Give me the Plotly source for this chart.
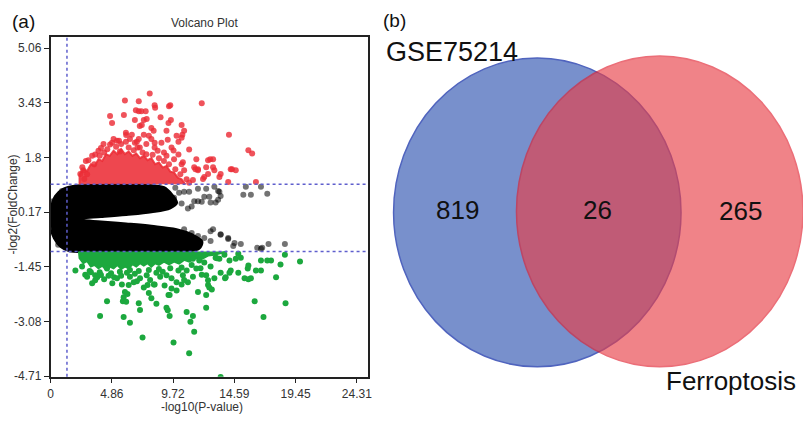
import plotly.graph_objects as go

W, H = 803, 424

# ---------------- Volcano plot data ----------------
x_ticks = [0, 4.86, 9.72, 14.59, 19.45, 24.31]
x_tick_labels = ["0", "4.86", "9.72", "14.59", "19.45", "24.31"]
y_ticks = [-4.71, -3.08, -1.45, 0.17, 1.8, 3.43, 5.06]
y_tick_labels = ["-4.71", "-3.08", "-1.45", "0.17", "1.8", "3.43", "5.06"]

p_cut = 1.3
fc_cut = [1.0, -1.0]

# outline of the dense black (non-significant) cloud
black_core_x = [0.0, 0.1, 0.4, 1.0, 2.0, 3.5, 6.0, 8.0, 9.0, 9.6, 10.0, 9.5, 8.0, 6.0, 4.0, 2.5, 1.7,
                2.5, 4.0, 6.0, 8.0, 10.0, 11.2, 12.0, 11.8, 11.0, 8.0, 4.0, 1.5, 0.8, 0.3, 0.05]
black_core_y = [-0.05, 0.35, 0.65, 0.85, 0.95, 0.97, 0.97, 0.96, 0.9, 0.7, 0.45, 0.3, 0.18, 0.1, 0.04, 0.0, -0.04,
                -0.08, -0.12, -0.18, -0.25, -0.35, -0.5, -0.7, -0.9, -0.98, -0.99, -0.99, -0.98, -0.85, -0.6, -0.35]

gray_x = [13.0, 15.5, 16.7, 15.3, 15.9, 17.2, 13.3, 13.5, 12.2, 12.7, 13.1, 11.4, 11.7, 11.2, 10.6, 11.0,
          11.7, 12.35, 13.4, 12.6, 13.3, 12.0, 10.4, 10.9, 10.6, 11.2, 11.7, 12.2, 12.7, 12.9, 12.7, 13.5,
          14.1, 14.1, 14.5, 14.6, 15.1, 16.4, 16.7, 16.8, 17.3, 18.6, 13.5, 9.8, 10.2, 9.9, 11.4, 10.8,
          0.1, 0.05, 0.2, 0.6, 0.9]
gray_y = [0.93, 0.93, 0.93, 0.69, 0.69, 0.72, 0.8, 0.65, 0.63, 0.46, 0.46, 0.5, 0.5, 0.34, 0.78, 0.78,
          0.87, 0.87, 0.78, 0.63, 0.54, 0.48, 0.43, 0.28, -0.34, -0.45, -0.54, -0.6, -0.69, -0.34, -0.4, -0.49,
          -0.6, -0.63, -0.84, -0.75, -0.78, -0.89, -0.92, -0.89, -0.78, -0.78, -0.5, 0.6, 0.75, 0.9, -0.8, -0.6,
          0.2, -0.3, 0.5, -0.8, 0.8]

# outline of the dense red (up-regulated) cluster
red_core_x = [2.3, 2.3, 2.6, 2.9, 3.2, 3.5, 3.8, 4.1, 4.4, 4.7, 5.0, 5.3, 5.6, 5.9, 6.2, 6.5, 6.8, 7.1,
              7.4, 7.7, 8.0, 8.3, 8.6, 8.9, 9.2, 9.5, 9.8, 10.1, 10.4, 10.7]
red_core_y = [1.0, 1.3, 1.45, 1.4, 1.6, 1.55, 1.75, 1.7, 1.9, 1.85, 2.0, 1.9, 2.05, 1.9, 1.98, 1.85, 1.92, 1.78,
              1.85, 1.72, 1.78, 1.6, 1.65, 1.5, 1.55, 1.38, 1.35, 1.2, 1.15, 1.0]

red_x = [7.87, 5.9, 7.0, 8.26, 8.3, 9.5, 12.0, 6.77, 7.0, 7.2, 7.55, 4.72, 5.82, 4.88, 6.69, 7.4, 7.63,
         8.73, 9.4, 9.36, 9.55, 7.08, 7.24, 8.0, 10.4, 5.98, 6.0, 6.45, 7.4, 7.8, 8.18, 9.2, 9.3, 10.0,
         10.46, 10.6, 10.4, 14.16, 4.72, 4.88, 5.27, 5.43, 5.98, 6.69, 6.85, 8.26, 8.8, 10.15, 7.08, 8.26,
         9.6, 11.0, 15.7, 16.0, 9.76, 10.15, 3.54, 4.25, 3.46, 2.52, 2.36, 2.67, 11.57, 12.5, 12.9, 12.67,
         11.5, 11.7, 11.4, 12.9, 12.35, 13.0, 12.5, 12.1, 13.4, 13.5, 14.3, 14.7, 14.4, 14.1, 16.3, 12.2,
         11.3, 10.6, 10.5, 11.7, 3.0, 3.9, 4.5, 5.2, 5.5, 6.2, 6.6, 7.3, 7.6, 8.1, 8.6, 9.0, 9.4, 9.9,
         10.3, 10.8, 11.0, 2.9, 2.6, 3.3, 3.8, 4.2, 5.0, 5.6, 6.3, 6.9, 7.6, 8.5, 9.0, 9.8, 10.4, 2.8,
         4.0, 7.0, 8.0, 9.2]
red_y = [3.71, 3.5, 3.48, 3.36, 3.28, 3.36, 3.42, 3.21, 3.18, 3.18, 3.18, 3.04, 3.07, 2.83, 2.92, 2.92, 2.95,
         3.0, 3.33, 2.83, 2.92, 2.74, 2.77, 2.68, 2.77, 2.54, 2.47, 2.48, 2.48, 2.45, 2.6, 2.6, 2.33, 2.45,
         2.48, 2.6, 2.39, 2.48, 2.19, 2.24, 2.3, 2.3, 2.27, 2.24, 2.27, 2.24, 2.24, 2.27, 2.1, 2.1,
         2.1, 2.04, 2.02, 1.92, 2.01, 1.89, 1.89, 1.95, 1.6, 1.51, 1.31, 1.16, 1.75, 1.72, 1.75, 1.75,
         1.45, 1.45, 1.51, 1.51, 1.51, 1.42, 1.31, 1.16, 1.22, 1.31, 1.45, 1.42, 1.45, 1.07, 1.07, 1.22,
         1.13, 1.42, 1.66, 1.42, 1.72, 1.85, 2.05, 2.12, 1.98, 2.1, 2.02, 1.95, 1.9, 1.88, 1.78, 1.7, 1.6, 1.45,
         1.3, 1.15, 1.05, 1.3, 1.42, 1.85, 2.0, 2.2, 2.35, 2.2, 2.35, 2.1, 2.2, 2.0, 1.95, 1.75, 1.6, 1.7,
         2.08, 2.35, 2.35, 1.85]

# outline of the dense green (down-regulated) cluster
green_core_x = [2.25, 2.3, 2.6, 2.9, 3.2, 3.5, 3.8, 4.1, 4.4, 4.7, 5.0, 5.3, 5.6, 5.9, 6.2, 6.5, 6.8, 7.1,
                7.4, 7.7, 8.0, 8.3, 8.6, 9.0, 9.4, 9.8, 10.2, 10.6, 11.0, 11.5, 12.0, 12.5, 13.0, 13.5, 14.0]
green_core_y = [-1.0, -1.2, -1.35, -1.28, -1.45, -1.4, -1.5, -1.42, -1.55, -1.45, -1.5, -1.4, -1.52, -1.45,
                -1.5, -1.38, -1.45, -1.35, -1.42, -1.35, -1.45, -1.35, -1.4, -1.3, -1.38, -1.3, -1.36, -1.25,
                -1.3, -1.2, -1.22, -1.12, -1.1, -1.04, -1.0]

green_x = [1.97, 3.3, 4.48, 3.93, 5.74, 6.0, 6.1, 5.8, 6.3, 7.0, 7.1, 7.3, 8.4, 8.0, 7.8, 7.4, 6.85, 5.9,
           5.8, 5.04, 3.7, 3.54, 8.26, 9.2, 9.3, 9.45, 9.76, 11.0, 10.8, 9.36, 9.6, 10.0, 10.5, 10.15, 9.2,
           8.4, 7.63, 6.69, 6.06, 5.27, 4.48, 13.5, 11.4, 11.3, 11.1, 12.35, 12.35, 12.8, 12.5, 12.35, 13.0,
           13.5, 13.85, 14.3, 14.9, 15.4, 15.9, 15.65, 15.7, 16.3, 16.2, 16.9, 18.65, 17.9, 18.25, 19.8,
           18.6, 17.2, 17.5, 16.7, 14.7, 14.9, 14.2, 13.1, 13.4, 11.8, 11.3, 11.57, 10.8, 9.05, 8.2, 6.6,
           5.66, 4.25, 3.54, 2.75, 10.4, 10.0, 9.45, 11.7, 10.9, 12.0, 12.5, 12.6, 15.1, 14.2, 13.9, 15.7,
           16.7, 2.5, 3.1, 3.9, 4.8, 5.5, 6.3, 7.0, 7.8, 8.6, 9.5, 10.4, 11.2, 12.2, 13.2, 13.8,
           2.9, 3.2, 4.0, 4.6, 5.6, 6.3, 7.1, 7.9, 8.7, 9.6, 10.6, 4.9, 6.2, 7.7, 8.9, 11.3, 11.9, 12.7]
green_y = [-1.57, -1.95, -2.48, -2.92, -2.48, -2.5, -2.27, -2.95, -3.12, -2.54, -2.74, -3.56, -2.56, -2.39,
           -2.24, -2.07, -1.89, -2.21, -2.36, -1.77, -1.77, -1.86, -1.98, -2.68, -2.75, -2.92, -3.71, -4.03,
           -2.8, -2.3, -2.1, -1.92, -1.71, -1.57, -1.71, -1.63, -1.71, -1.66, -1.63, -1.8, -1.51, -4.74, -3.39,
           -2.92, -3.09, -2.68, -2.3, -2.13, -2.0, -1.71, -1.8, -1.63, -1.8, -1.57, -1.63, -1.8, -1.8, -1.51,
           -1.42, -1.57, -2.48, -2.95, -2.54, -1.77, -1.39, -1.3, -1.1, -1.27, -1.27, -1.27, -1.22, -1.07,
           -1.27, -1.19, -1.22, -1.27, -1.22, -1.51, -1.57, -2.01, -1.98, -1.92, -1.98, -1.83, -1.71, -1.69,
           -1.98, -2.16, -2.3, -2.21, -1.92, -1.69, -1.86, -2.07, -1.19, -1.63, -1.77, -1.83, -1.57, -1.45,
           -1.58, -1.62, -1.65, -1.6, -1.55, -1.58, -1.55, -1.52, -1.5, -1.48, -1.4, -1.33, -1.2, -1.1,
           -1.75, -1.62, -1.7, -1.72, -1.72, -1.75, -1.8, -1.85, -1.75, -1.8, -1.85, -1.95, -2.0, -2.0, -1.6,
           -1.75, -1.5, -1.45]

# ---------------- Venn data ----------------
venn_sets = ["GSE75214", "Ferroptosis"]
venn_counts = [819, 26, 265]  # only-left, overlap, only-right

BLACK = "rgba(0,0,0,0.55)"
RED = "rgba(236,45,55,0.82)"
GREEN = "rgb(28,168,62)"
DASH = "rgb(95,95,205)"
FONT = "Liberation Sans, Arial, sans-serif"

fig = go.Figure()

def core(x, y, color, shape="linear", width=2):
    fig.add_trace(go.Scatter(x=x, y=y, mode="lines", fill="toself", fillcolor=color,
                             line=dict(color=color, width=width, shape=shape), hoverinfo="skip",
                             showlegend=False, xaxis="x", yaxis="y"))

def pts(x, y, color):
    fig.add_trace(go.Scatter(x=x, y=y, mode="markers", marker=dict(size=6, color=color, line=dict(width=0)),
                             hoverinfo="skip", showlegend=False, xaxis="x", yaxis="y", cliponaxis=True))

core(black_core_x, black_core_y, "rgb(0,0,0)", shape="spline", width=3)
pts(gray_x, gray_y, BLACK)
core(red_core_x, red_core_y, "rgba(236,45,55,0.88)")
pts(red_x, red_y, RED)
core(green_core_x, green_core_y, GREEN)
pts(green_x, green_y, GREEN)

x_dom = [48 / W, 368 / W]
y_dom = [1 - 383 / H, 1 - 38 / H]

fig.update_layout(
    width=W, height=H, autosize=False,
    margin=dict(l=0, r=0, t=0, b=0),
    paper_bgcolor="white", plot_bgcolor="white",
    font=dict(family=FONT, color="#222"),
    xaxis=dict(domain=x_dom, range=[0, 25.18], tickvals=x_ticks, ticktext=x_tick_labels,
               showgrid=False, zeroline=False, showline=True, linecolor="#222", linewidth=1.5,
               mirror=True, ticks="outside", ticklen=5, tickwidth=1.2, tickcolor="#222",
               tickfont=dict(size=12, color="#333")),
    yaxis=dict(domain=y_dom, range=[-4.73, 5.38], tickvals=y_ticks, ticktext=y_tick_labels,
               showgrid=False, zeroline=False, showline=True, linecolor="#222", linewidth=1.5,
               mirror=True, ticks="outside", ticklen=5, tickwidth=1.2, tickcolor="#222",
               tickfont=dict(size=12, color="#333")),
)

# threshold lines
for v in fc_cut:
    fig.add_shape(type="line", xref="x domain", yref="y", x0=0, x1=1, y0=v, y1=v,
                  line=dict(color=DASH, width=1.5, dash="dot"), layer="above")
fig.add_shape(type="line", xref="x", yref="y domain", x0=p_cut, x1=p_cut, y0=0, y1=1,
              line=dict(color=DASH, width=1.5, dash="dot"), layer="above")

def ann(text, px, py, size, xanchor="center", angle=0, color="#111"):
    fig.add_annotation(text=text, x=px / W, y=1 - py / H, xref="paper", yref="paper",
                       xanchor=xanchor, yanchor="middle", showarrow=False, textangle=angle,
                       font=dict(size=size, color=color, family=FONT))

ann("(a)", 7, 22, 19, xanchor="left")
ann("Volcano Plot", 203, 23, 12, color="#333")
ann("-log10(P-value)", 201, 414, 12, color="#333")
ann("-log2(FoldChange)", 10, 208, 12, angle=-90, color="#333")

# ---------------- Venn diagram ----------------
fig.add_shape(type="circle", xref="paper", yref="paper",
              x0=394 / W, x1=684 / W, y0=1 - 373 / H, y1=1 - 59 / H,
              fillcolor="rgb(120,144,204)", line=dict(color="rgb(80,100,190)", width=1.5), layer="above")
fig.add_shape(type="circle", xref="paper", yref="paper",
              x0=518 / W, x1=807 / W, y0=1 - 373 / H, y1=1 - 57 / H,
              fillcolor="rgb(233,62,70)", line=dict(color="rgb(225,30,45)", width=1.5),
              opacity=0.64, layer="above")

ann("(b)", 381, 21, 19, xanchor="left")
ann(venn_sets[0], 384, 53, 27, xanchor="left")
ann(venn_sets[1], 667, 387, 26, xanchor="left")
ann(str(venn_counts[0]), 458, 214, 26)
ann(str(venn_counts[1]), 600, 214, 26)
ann(str(venn_counts[2]), 744, 215, 26)

fig.write_html("out.html", include_plotlyjs=True, config={"displayModeBar": False},
               post_script="document.body.style.margin='0';")
